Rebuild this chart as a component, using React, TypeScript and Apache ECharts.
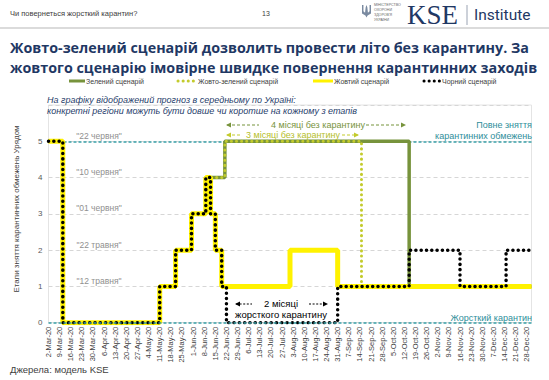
import React, { useEffect, useRef } from "react";
import * as echarts from "echarts";

// ---------- data ----------
const AXIS_START = "2020-03-02";
const AXIS_END = "2020-12-31";

const tickLabels = [
  "2-Mar-20", "9-Mar-20", "16-Mar-20", "23-Mar-20", "30-Mar-20",
  "6-Apr-20", "13-Apr-20", "20-Apr-20", "27-Apr-20",
  "4-May-20", "11-May-20", "18-May-20", "25-May-20",
  "1-Jun-20", "8-Jun-20", "15-Jun-20", "22-Jun-20", "29-Jun-20",
  "6-Jul-20", "13-Jul-20", "20-Jul-20", "27-Jul-20",
  "3-Aug-20", "10-Aug-20", "17-Aug-20", "24-Aug-20", "31-Aug-20",
  "7-Sep-20", "14-Sep-20", "21-Sep-20", "28-Sep-20",
  "5-Oct-20", "12-Oct-20", "19-Oct-20", "26-Oct-20",
  "2-Nov-20", "9-Nov-20", "16-Nov-20", "23-Nov-20", "30-Nov-20",
  "7-Dec-20", "14-Dec-20", "21-Dec-20", "28-Dec-20",
];

// step points: [date from which the stage holds, stage]
const greenScenario: [string, number][] = [
  ["2020-03-02", 5], ["2020-03-11", 0], ["2020-05-11", 1], ["2020-05-21", 2],
  ["2020-05-31", 3], ["2020-06-09", 4], ["2020-06-21", 5], ["2020-10-15", 1],
  ["2020-12-31", 1],
];
const yellowGreenScenario: [string, number][] = [
  ["2020-03-02", 5], ["2020-03-11", 0], ["2020-05-11", 1], ["2020-05-21", 2],
  ["2020-05-31", 3], ["2020-06-09", 4], ["2020-06-21", 5], ["2020-09-15", 1],
  ["2020-12-31", 1],
];
const yellowScenario: [string, number][] = [
  ["2020-03-02", 5], ["2020-03-11", 0], ["2020-05-11", 1], ["2020-05-21", 2],
  ["2020-05-31", 3], ["2020-06-09", 4], ["2020-06-12", 3], ["2020-06-15", 2],
  ["2020-06-19", 1], ["2020-08-01", 2], ["2020-08-31", 1], ["2020-12-31", 1],
];
const blackScenario: [string, number][] = [
  ["2020-03-02", 5], ["2020-03-11", 0], ["2020-05-11", 1], ["2020-05-21", 2],
  ["2020-05-31", 3], ["2020-06-09", 4], ["2020-06-12", 3], ["2020-06-15", 2],
  ["2020-06-19", 1], ["2020-06-22", 0], ["2020-08-31", 1], ["2020-10-15", 2],
  ["2020-11-16", 1], ["2020-12-15", 2], ["2020-12-31", 2],
];

const stageLevels = [1, 2, 3, 4, 5];
const stageDates = ['"12 травня"', '"22 травня"', '"01 червня"', '"10 червня"', '"22 червня"'];

const seriesNames = ["Зелений сценарій", "Жовто-зелений сценарій", "Жовтий сценарій", "Чорний сценарій"];

// ---------- helpers ----------
const dayIndex = (d: string) =>
  Math.round((Date.parse(d) - Date.parse(AXIS_START)) / 86400000);
const toXY = (arr: [string, number][]) => arr.map(([d, v]) => [dayIndex(d), v]);

const C_GREEN = "#77933C";
const C_YG = "#C3CB2C";
const C_YELLOW = "#FFF200";
const C_BLACK = "#000000";
const C_TEAL = "#3AA0A8";
const C_TEAL_TXT = "#2E8E9A";
const C_NAVY = "#1F3864";
const FONT = "Liberation Sans";

const TRIDENT =
  "M0 0 L1.6 0 L1.6 7 L3.4 8.6 L4.1 2.4 L5 0 L5.9 2.4 L6.6 8.6 L8.4 7 L8.4 0 L10 0 L10 9.4 L6.2 11.6 L5 14 L3.8 11.6 L0 9.4 Z";

export default function App() {
  const ref = useRef<HTMLDivElement>(null);

  useEffect(() => {
    const el = ref.current!;
    try {
      echarts.graphic.registerShape("trident", echarts.graphic.extendPath(TRIDENT, {}));
    } catch (e) {}
    const chart = echarts.init(el, null, { renderer: "svg" });
    const xMax = dayIndex(AXIS_END);

    const dotted = (color: string, width: number, gap: number) => ({
      color, width, type: [0.1, gap], cap: "round", join: "round",
    });

    chart.setOption({
      animation: false,
      textStyle: { fontFamily: FONT },
      grid: {
        left: 48.5, right: 17.5, top: 105, bottom: 57.3,
        show: true, borderColor: "#e4e4e4", borderWidth: 1,
      },
      xAxis: {
        type: "value", min: 0, max: xMax, interval: 7,
        axisLine: { show: false }, axisTick: { show: false }, splitLine: { show: false },
        axisLabel: {
          rotate: 90, fontSize: 7.5, color: "#404040", margin: 4,
          showMaxLabel: false,
          formatter: (v: number) => (v % 7 === 0 && tickLabels[v / 7]) ? tickLabels[v / 7] : "",
        },
      },
      yAxis: {
        type: "value", min: 0, max: 6, interval: 1,
        axisLine: { show: false }, axisTick: { show: false },
        axisLabel: {
          fontSize: 8, color: "#595959", margin: 6,
          formatter: (v: number) => (v <= 5 ? String(v) : ""),
        },
        splitLine: { lineStyle: { color: "#d6d6d6", type: [4, 3], width: 1 } },
      },
      series: [
        {
          type: "line", name: "ref-top", data: [], silent: true, z: 1,
          markLine: {
            silent: true, symbol: "none", z: 1, label: { show: false },
            lineStyle: { color: C_TEAL, type: [3, 2], width: 1.5 },
            data: [{ yAxis: 5 }],
          },
        },
        {
          type: "line", name: seriesNames[0], data: toXY(greenScenario), step: "end",
          symbol: "none", showSymbol: false, z: 10,
          lineStyle: { color: C_GREEN, width: 3.5 },
        },
        {
          type: "line", name: seriesNames[1], data: toXY(yellowGreenScenario), step: "end",
          symbol: "none", showSymbol: false, z: 11,
          lineStyle: dotted(C_YG, 3, 5),
        },
        {
          type: "line", name: seriesNames[2], data: toXY(yellowScenario), step: "end",
          symbol: "none", showSymbol: false, z: 12,
          lineStyle: { color: C_YELLOW, width: 5 },
        },
        {
          type: "line", name: seriesNames[3], data: toXY(blackScenario), step: "end",
          symbol: "none", showSymbol: false, z: 13,
          lineStyle: dotted(C_BLACK, 3.5, 5.2),
        },
        {
          type: "line", name: "ref-bottom", data: [], silent: true, z: 20,
          markLine: {
            silent: true, symbol: "none", z: 20, label: { show: false },
            lineStyle: { color: C_TEAL, type: [3, 2], width: 1.5 },
            data: [{ yAxis: 0 }],
          },
        },
      ],
    });

    const py = (v: number) => chart.convertToPixel({ yAxisIndex: 0 }, v) as number;

    const txt = (x: number, y: number, text: string, o: any = {}) => ({
      type: "text", x, y, silent: true, z: 50,
      style: {
        text, fill: o.fill || "#404040", fontSize: o.size || 8,
        fontFamily: o.family || FONT, fontWeight: o.weight || "normal",
        fontStyle: o.style || "normal", align: o.align || "left",
        verticalAlign: o.va || "middle",
      },
      rotation: o.rotation || 0,
    });
    const arrow = (x1: number, x2: number, y: number, color: string, head: "left" | "right", dash: number[] = [3, 2]) => [
      { type: "line", silent: true, z: 50, shape: { x1, y1: y, x2, y2: y }, style: { stroke: color, lineWidth: 1.2, lineDash: dash } },
      {
        type: "polygon", silent: true, z: 50,
        shape: {
          points: head === "left"
            ? [[x1 - 1, y], [x1 + 4, y - 2.6], [x1 + 4, y + 2.6]]
            : [[x2 + 1, y], [x2 - 4, y - 2.6], [x2 - 4, y + 2.6]],
        },
        style: { fill: color },
      },
    ];
    const legendLine = (x1: number, x2: number, y: number, ls: any) => ({
      type: "line", silent: true, z: 50, shape: { x1, y1: y, x2, y2: y },
      style: { stroke: ls.color, lineWidth: ls.width, lineDash: ls.dash || null, lineCap: ls.dash ? "round" : "butt" },
    });

    const graphics: any[] = [
      // header
      txt(10, 13, "Чи повернеться жорсткий карантин?", { size: 7.5, fill: "#404040" }),
      txt(262, 13, "13", { size: 7, fill: "#404040" }),
      { type: "trident", x: 362, y: 5, scaleX: 0.9, scaleY: 0.9, silent: true, style: { fill: "#7a8aa0" } },
      txt(374, 5, "МІНІСТЕРСТВО", { size: 3.6, fill: "#666" }),
      txt(374, 10, "ОХОРОНИ", { size: 3.6, fill: "#666" }),
      txt(374, 15, "ЗДОРОВ'Я", { size: 3.6, fill: "#666" }),
      txt(374, 20, "УКРАЇНИ", { size: 3.6, fill: "#666" }),
      txt(407, 15, "KSE", { size: 27, family: "Liberation Serif", fill: C_NAVY }),
      { type: "line", silent: true, shape: { x1: 467, y1: 5, x2: 467, y2: 25 }, style: { stroke: "#9aa3b3", lineWidth: 1 } },
      txt(474, 15, "Institute", { size: 15.5, fill: C_NAVY, family: "Roboto" }),
      { type: "line", silent: true, shape: { x1: 0, y1: 28, x2: 549, y2: 28 }, style: { stroke: "#b8b8b8", lineWidth: 1.2 } },
      // title
      txt(10, 47, "Жовто-зелений сценарій дозволить провести літо без карантину. За", { size: 14.3, weight: "bold", family: "Open Sans", fill: C_NAVY }),
      txt(10, 67, "жовтого сценарію імовірне швидке повернення карантинних заходів", { size: 14.3, weight: "bold", family: "Open Sans", fill: C_NAVY }),
      // legend
      legendLine(69, 85, 81, { color: C_GREEN, width: 3 }),
      txt(86, 81, seriesNames[0], { size: 7 }),
      legendLine(178, 195, 81, { color: C_YG, width: 3, dash: [0.1, 5] }),
      txt(198, 81, seriesNames[1], { size: 7 }),
      legendLine(313, 333, 81, { color: C_YELLOW, width: 3 }),
      txt(334, 81, seriesNames[2], { size: 7 }),
      legendLine(424, 440, 81, { color: C_BLACK, width: 3, dash: [0.1, 5] }),
      txt(442, 81, seriesNames[3], { size: 7 }),
      // note
      txt(47, 100, "На графіку відображений прогноз в середньому по Україні:", { size: 9, style: "italic", fill: "#1F3D6B" }),
      txt(47, 111, "конкретні регіони можуть бути довше чи коротше на кожному з етапів", { size: 9, style: "italic", fill: "#1F3D6B" }),
      // y axis title
      txt(16, 209, "Етапи зняття карантинних обмежень Урядом", { size: 8, align: "center", rotation: Math.PI / 2, fill: "#404040" }),
      // 4 months / 3 months arrows
      ...arrow(227, 259, 125, C_GREEN, "left"),
      txt(318, 125, "4 місяці без карантину", { size: 9, align: "center", fill: C_GREEN }),
      ...arrow(366, 405, 125, C_GREEN, "right"),
      ...arrow(227, 242, 135, C_YG, "left"),
      txt(293, 135, "3 місяці без карантину", { size: 9, align: "center", fill: "#B5BE2A" }),
      ...arrow(342, 358, 135, C_YG, "right"),
      // full lifting
      txt(532, 125, "Повне зняття", { size: 9, align: "right", fill: C_TEAL_TXT }),
      txt(532, 136, "карантинних обмежень", { size: 9, align: "right", fill: C_TEAL_TXT }),
      txt(532, 318, "Жорсткий карантин", { size: 9, align: "right", fill: C_TEAL_TXT }),
      // 2 months hard quarantine
      ...arrow(236, 252, 304, "#000", "left", [2, 1.6]),
      txt(281, 303, "2 місяці", { size: 9.5, align: "center", fill: "#000" }),
      txt(281, 314.5, "жорсткого карантину", { size: 9.5, align: "center", fill: "#000" }),
      ...arrow(309, 327, 304, "#000", "right", [2, 1.6]),
      // source
      txt(10, 369, "Джерела: модель KSE", { size: 9.5, fill: "#404040" }),
    ];
    stageLevels.forEach((lv, i) => {
      graphics.push(txt(99, py(lv) - 5.5, stageDates[i], { size: 8.5, align: "center", fill: "#8f8f8f" }));
    });

    chart.setOption({ graphic: graphics });

    return () => chart.dispose();
  }, []);

  return (
    <div
      ref={ref}
      style={{ position: "fixed", left: 0, top: 0, width: 549, height: 380, background: "#fff" }}
    />
  );
}
